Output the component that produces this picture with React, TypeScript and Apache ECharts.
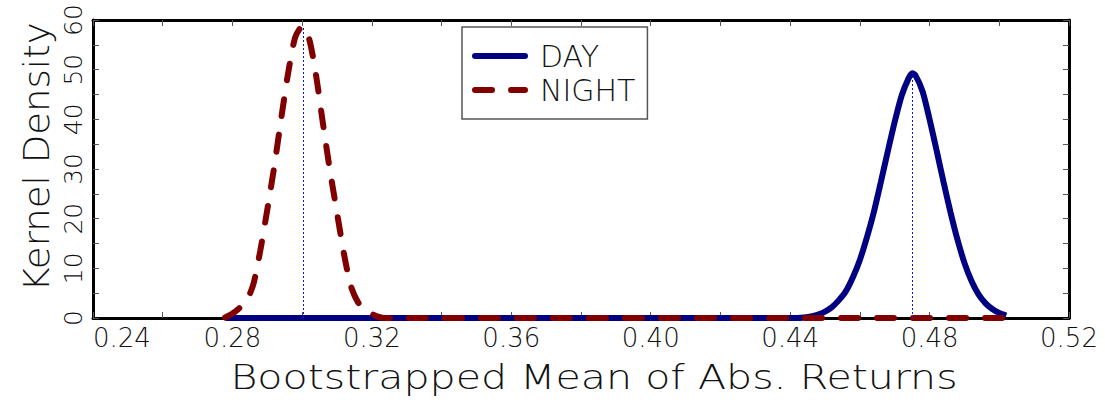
import { useEffect, useRef } from "react";
import * as echarts from "echarts";

// Axis settings
const xMin = 0.24;
const xMax = 0.52;
const xStep = 0.04;
const yMin = 0;
const yMax = 60;
const yStep = 10;

const xTitle = "Bootstrapped Mean of Abs. Returns";
const yTitle = "Kernel Density";
const seriesNames = ["DAY", "NIGHT"];

// DAY kernel density
const dayX = [0.278, 0.442, 0.444, 0.446, 0.448, 0.45, 0.452, 0.454, 0.456, 0.458, 0.46, 0.462, 0.464, 0.466, 0.468, 0.47, 0.472, 0.474, 0.475, 0.476, 0.478, 0.48, 0.482, 0.484, 0.486, 0.488, 0.49, 0.492, 0.494, 0.496, 0.498, 0.5, 0.502];
const dayY = [0, 0, 0.1, 0.3, 0.7, 1.3, 2.2, 3.6, 5.4, 8.2, 11.7, 16.2, 21.3, 27.3, 33.5, 39.5, 44.8, 48.3, 49.3, 48.8, 45.6, 40.0, 33.8, 27.4, 21.3, 15.8, 11.1, 7.5, 4.8, 3.0, 1.8, 1.0, 0.5];

// NIGHT kernel density
const nightX = [0.2779, 0.28, 0.282, 0.284, 0.286, 0.288, 0.29, 0.292, 0.294, 0.296, 0.298, 0.3, 0.302, 0.304, 0.306, 0.308, 0.31, 0.312, 0.314, 0.316, 0.318, 0.32, 0.322, 0.324, 0.5021];
const nightY = [0.1, 0.9, 2.0, 3.4, 6.8, 13.6, 21.8, 30.5, 40.2, 49.4, 56.5, 58.7, 56.2, 48.8, 39.0, 29.6, 21.2, 12.9, 6.4, 3.2, 1.7, 0.8, 0.2, 0, 0];

// Peak markers
const peakX = [0.475, 0.3002];
const peakY = [49.3, 58.7];

const FONT = "'DejaVu Sans', sans-serif";
const dayColor = "#000080";
const nightColor = "#800000";

export default function App() {
  const ref = useRef<HTMLDivElement>(null);
  useEffect(() => {
    document.body.style.margin = "0";
    const chart = echarts.init(ref.current!, null, { renderer: "svg" });
    const axisLine = { show: true, onZero: false, lineStyle: { color: "#000", width: 3 } };
    const tick = { show: true, inside: true, length: 6, lineStyle: { color: "#555", width: 1 } };
    const minor = { show: true, splitNumber: 2, length: 6, lineStyle: { color: "#555", width: 1 } };
    const markLine = (i: number) => ({
      silent: true,
      symbol: ["none", "none"],
      label: { show: false },
      lineStyle: { color: "#1010ee", type: [2, 2], width: 1, opacity: 1 },
      data: [[{ coord: [peakX[i], 0] }, { coord: [peakX[i], peakY[i]] }]],
    });
    chart.setOption({
      animation: false,
      grid: { left: 93, right: 36, top: 20, bottom: 84, containLabel: false },
      legend: {
        data: seriesNames,
        orient: "vertical",
        left: 462,
        top: 27,
        padding: [14, 12, 14, 10],
        itemWidth: 50,
        itemHeight: 14,
        itemGap: 4,
        borderColor: "#555",
        borderWidth: 1.5,
        itemStyle: { opacity: 0 },
        lineStyle: { width: 6, cap: "round" },
        textStyle: { fontFamily: FONT, fontWeight: 200, fontSize: 30, lineHeight: 30, color: "#111", padding: [0, 0, 0, 10] },
      },
      xAxis: [
        {
          type: "value", position: "bottom", min: xMin, max: xMax, interval: xStep,
          axisLine, axisTick: tick, minorTick: minor, splitLine: { show: false },
          axisLabel: { formatter: (v: number) => v.toFixed(2), fontFamily: FONT, fontWeight: 200, fontSize: 26, color: "#111", margin: 7, alignMinLabel: "left" },
        },
        {
          type: "value", position: "top", min: xMin, max: xMax, interval: xStep,
          axisLine, axisTick: tick, minorTick: minor, splitLine: { show: false }, axisLabel: { show: false },
        },
      ],
      yAxis: [
        {
          type: "value", position: "left", min: yMin, max: yMax, interval: yStep,
          axisLine, axisTick: tick, minorTick: minor, splitLine: { show: false },
          axisLabel: { rotate: 90, fontFamily: FONT, fontWeight: 200, fontSize: 25, color: "#111", margin: 7 },
        },
        {
          type: "value", position: "right", min: yMin, max: yMax, interval: yStep,
          axisLine, axisTick: tick, minorTick: minor, splitLine: { show: false }, axisLabel: { show: false },
        },
      ],
      graphic: [
        {
          type: "text", x: 594, y: 377, scaleX: 1.21,
          style: { text: xTitle, font: `200 34px ${FONT}`, fill: "#111", align: "center", verticalAlign: "middle" },
        },
        {
          type: "text", x: 37, y: 157, rotation: Math.PI / 2, scaleX: 1.06,
          style: { text: yTitle, font: `200 35px ${FONT}`, fill: "#111", align: "center", verticalAlign: "middle" },
        },
      ],
      series: [
        {
          name: seriesNames[0], type: "line", data: dayX.map((x, i) => [x, dayY[i]]),
          showSymbol: false, symbol: "none", smooth: 0.25, clip: false,
          lineStyle: { color: dayColor, width: 6 }, itemStyle: { color: dayColor },
          markLine: markLine(0), z: 2,
        },
        {
          name: seriesNames[1], type: "line", data: nightX.map((x, i) => [x, nightY[i]]),
          showSymbol: false, symbol: "none", smooth: 0.25, clip: false,
          lineStyle: { color: nightColor, width: 6, type: [17, 19], cap: "round" }, itemStyle: { color: nightColor },
          markLine: markLine(1), z: 3,
        },
      ],
    });
    return () => chart.dispose();
  }, []);
  return <div ref={ref} style={{ width: 1105, height: 402 }} />;
}
